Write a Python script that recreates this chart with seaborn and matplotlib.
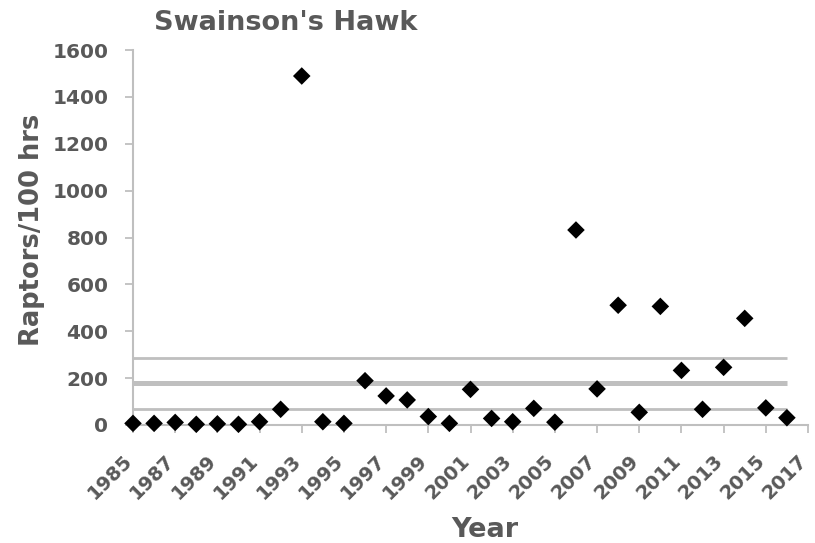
import matplotlib
matplotlib.use("Agg")
import matplotlib.pyplot as plt
import matplotlib.transforms as mtransforms
import seaborn as sns
import pandas as pd

# Swainson's Hawk passage rate by year
years = list(range(1985, 2017))
rates = [7, 7, 11, 3, 5, 3, 14, 67, 1489, 14, 7, 189, 124, 107, 36, 7,
         152, 28, 14, 71, 12, 832, 154, 511, 54, 506, 233, 67, 246, 455, 73, 31]

# Reference levels: long-term mean and its band
mean_level = 178
upper_level = 287
lower_level = 67

x_ticks = list(range(1985, 2018, 2))
y_ticks = list(range(0, 1601, 200))

df = pd.DataFrame({"Year": years, "Rate": rates})

sns.set_theme(style="white")
plt.rcParams["font.family"] = ["DejaVu Sans"]

GRAY_TXT = "#595959"
GRAY_LN = "#BFBFBF"
W, H = 815, 543

fig = plt.figure(figsize=(W / 100, H / 100), dpi=100)
ax = fig.add_axes([133 / W, 1 - 425 / H, (808 - 133) / W, (425 - 50) / H])

ax.hlines([upper_level, lower_level], years[0], years[-1], color=GRAY_LN, lw=2.0, zorder=1)
ax.hlines(mean_level, years[0], years[-1], color=GRAY_LN, lw=3.6, zorder=1)

sns.scatterplot(data=df, x="Year", y="Rate", marker="D", s=80, color="black",
                edgecolor="none", linewidth=0, ax=ax, zorder=3, clip_on=False)

ax.set_xlim(1985, 2017)
ax.set_ylim(0, 1600)
ax.set_xticks(x_ticks)
ax.set_yticks(y_ticks)
# year labels: the end of each baseline sits just below its tick
ax.set_xticklabels([str(t) for t in x_ticks], rotation=45, ha="right", va="baseline",
                   rotation_mode="anchor", fontsize=14, fontweight="bold", color=GRAY_TXT)
ax.set_yticklabels([str(t) for t in y_ticks], fontsize=14.5, fontweight="bold", color=GRAY_TXT)
ax.set_xlabel("")
ax.set_ylabel("")

shift = mtransforms.ScaledTranslation(1 / 100, 0, fig.dpi_scale_trans)
for lbl in ax.get_xticklabels():
    lbl.set_transform(lbl.get_transform() + shift)

for side in ("top", "right"):
    ax.spines[side].set_visible(False)
for side in ("left", "bottom"):
    ax.spines[side].set_color(GRAY_LN)
    ax.spines[side].set_linewidth(1.5)

ax.tick_params(axis="both", which="major", direction="out", length=5.8, width=1.3,
               color=GRAY_LN, left=True, bottom=True)
ax.tick_params(axis="y", pad=12)
ax.tick_params(axis="x", pad=20.5)

fig.text(485 / W, 1 - 537 / H, "Year", ha="center", va="baseline",
         fontsize=19.5, fontweight="bold", color=GRAY_TXT)
fig.text(32 / W, 1 - 230 / H, "Raptors/100 hrs", ha="center", va="center", rotation=90,
         fontsize=18.5, fontweight="bold", color=GRAY_TXT)
fig.text(285.5 / W, 1 - 30 / H, "Swainson's Hawk", ha="center", va="baseline",
         fontsize=19.5, fontweight="bold", color=GRAY_TXT)

fig.savefig("out.png", dpi=100)
